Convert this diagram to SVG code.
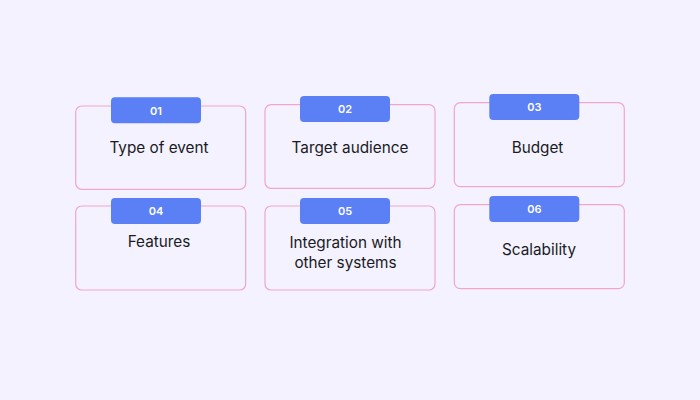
<svg xmlns="http://www.w3.org/2000/svg" width="700" height="400" viewBox="0 0 700 400">
<style>
.box{fill:none;stroke:#f2a6c8;stroke-width:1.2}
.badge{fill:#5b7ff5}
.num{font-family:"Inter","Liberation Sans",sans-serif;font-size:11px;font-weight:600;fill:#ffffff;text-anchor:middle}
.lbl{font-family:"Inter","Liberation Sans",sans-serif;font-size:15.3px;fill:#1a1a24;text-anchor:middle}
</style>
<rect width="700" height="400" fill="#f3f2fe"/>
<g id="node1">
<rect class="box" x="75.7" y="106" width="170" height="83.3" rx="6"/>
<rect class="badge" x="111" y="97.3" width="90" height="26" rx="4"/>
<text class="num" x="156" y="114.5">01</text>
<text class="lbl" x="159" y="153">Type of event</text>
</g>
<g id="node2">
<rect class="box" x="265" y="104.7" width="170" height="83.6" rx="6"/>
<rect class="badge" x="300" y="96" width="90" height="26" rx="4"/>
<text class="num" x="345" y="113">02</text>
<text class="lbl" x="350" y="153">Target audience</text>
</g>
<g id="node3">
<rect class="box" x="454.3" y="102.7" width="170" height="84" rx="6"/>
<rect class="badge" x="489.3" y="94" width="90" height="26" rx="4"/>
<text class="num" x="534.3" y="111">03</text>
<text class="lbl" x="537.5" y="153">Budget</text>
</g>
<g id="node4">
<rect class="box" x="75.7" y="206" width="170" height="84" rx="6"/>
<rect class="badge" x="111" y="198" width="90" height="26" rx="4"/>
<text class="num" x="156" y="215">04</text>
<text class="lbl" x="159" y="247">Features</text>
</g>
<g id="node5">
<rect class="box" x="265" y="206" width="170" height="84" rx="6"/>
<rect class="badge" x="300" y="198" width="90" height="26" rx="4"/>
<text class="num" x="345" y="215">05</text>
<text class="lbl" x="345.5" y="248">Integration with</text>
<text class="lbl" x="345.5" y="268">other systems</text>
</g>
<g id="node6">
<rect class="box" x="454.3" y="204.7" width="170" height="84" rx="6"/>
<rect class="badge" x="489.3" y="196" width="90" height="26" rx="4"/>
<text class="num" x="534.3" y="213">06</text>
<text class="lbl" x="539" y="255">Scalability</text>
</g>
<g id="connectors"></g>
</svg>
